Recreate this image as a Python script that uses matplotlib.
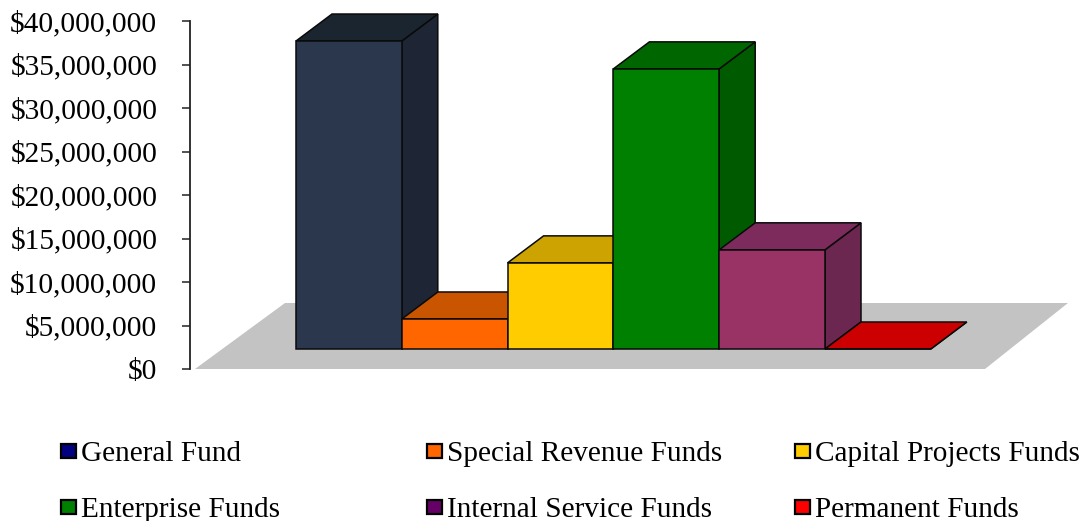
#!/usr/bin/env python3
"""Fund balances by fund type, drawn as an oblique 3D column chart."""

import matplotlib
matplotlib.use("Agg")
import matplotlib.pyplot as plt
from matplotlib.patches import Polygon, Rectangle
from matplotlib.transforms import Affine2D

funds = ["General Fund", "Special Revenue Funds", "Capital Projects Funds",
         "Enterprise Funds", "Internal Service Funds", "Permanent Funds"]
values = [35400000, 3450000, 9900000, 32200000, 11400000, 0]
y_ticks = [0, 5000000, 10000000, 15000000, 20000000, 25000000, 30000000, 35000000, 40000000]

front_colors = ["#2b374c", "#ff6600", "#ffcc00", "#008000", "#993366", "#ff0000"]
side_colors = ["#1e2635", "#b34700", "#b38f00", "#005a00", "#6b2750", "#b30000"]
top_colors = ["#1b2530", "#c95500", "#cca300", "#006600", "#7d2a5c", "#cc0000"]
legend_colors = ["#000080", "#ff6600", "#ffcc00", "#008000", "#660066", "#ff0000"]

W, H = 1088, 521
FONT = "Liberation Serif"

# depth of the columns: x in bar widths, y in dollars
DEPTH_X = 36 / 105.8
DEPTH_Y = 27 / 8.7 * 1e6
# column bases sit this far above the front edge of the floor
BASE = 20 / 8.7 * 1e6

fig = plt.figure(figsize=(W / 100, H / 100), dpi=100)
ax = fig.add_axes([190 / W, 1 - 369 / H, (W - 190) / W, 348 / H])
ax.set_xlim(-(296 - 190) / 105.8, (W - 296) / 105.8)
ax.set_ylim(0, 40000000)
ax.patch.set_alpha(0)
for name in ["top", "right", "bottom"]:
    ax.spines[name].set_visible(False)
ax.spines["left"].set_linewidth(1.3)
ax.spines["left"].set_color("#222222")
ax.set_xticks([])
ax.set_yticks(y_ticks)
ax.set_yticklabels([f"${v:,}" for v in y_ticks], fontsize=21.2, family=FONT, color="black")
ax.tick_params(axis="y", length=6, width=1.1, color="#222222", pad=17.5)

# grey floor, in pixel coordinates from the top left corner
px = Affine2D().scale(1, -1).translate(0, H)
floor = Polygon([(195, 369), (985, 369), (1068, 303), (285, 303)], closed=True,
                transform=px, facecolor="#c4c3c3", edgecolor="none", zorder=1)
fig.add_artist(floor)
ax.set_zorder(2)

# left to right so each column overlaps the side of the previous one
for i, val in enumerate(values):
    x0, x1 = i, i + 1
    y0, y1 = BASE, BASE + val
    front = [(x0, y0), (x1, y0), (x1, y1), (x0, y1)]
    top = [(x0, y1), (x1, y1), (x1 + DEPTH_X, y1 + DEPTH_Y), (x0 + DEPTH_X, y1 + DEPTH_Y)]
    side = [(x1, y0), (x1 + DEPTH_X, y0 + DEPTH_Y), (x1 + DEPTH_X, y1 + DEPTH_Y), (x1, y1)]
    for pts, col in [(side, side_colors[i]), (top, top_colors[i]), (front, front_colors[i])]:
        ax.add_patch(Polygon(pts, closed=True, facecolor=col, edgecolor="#0a0a0a",
                             linewidth=1.1, clip_on=False, zorder=3 + i))

# legend, three columns over two rows
legend_x = [60, 426, 794]
legend_y = [451, 507]
for i, name in enumerate(funds):
    lx = legend_x[i % 3]
    ly = legend_y[i // 3]
    fig.add_artist(Rectangle((lx + 1, ly - 7), 15, 14, transform=px,
                             facecolor=legend_colors[i], edgecolor="black", linewidth=1.6))
    fig.text((lx + 21) / W, 1 - ly / H, name, fontsize=21.1, family=FONT,
             color="black", ha="left", va="center_baseline")

fig.savefig("out.png", dpi=100)
